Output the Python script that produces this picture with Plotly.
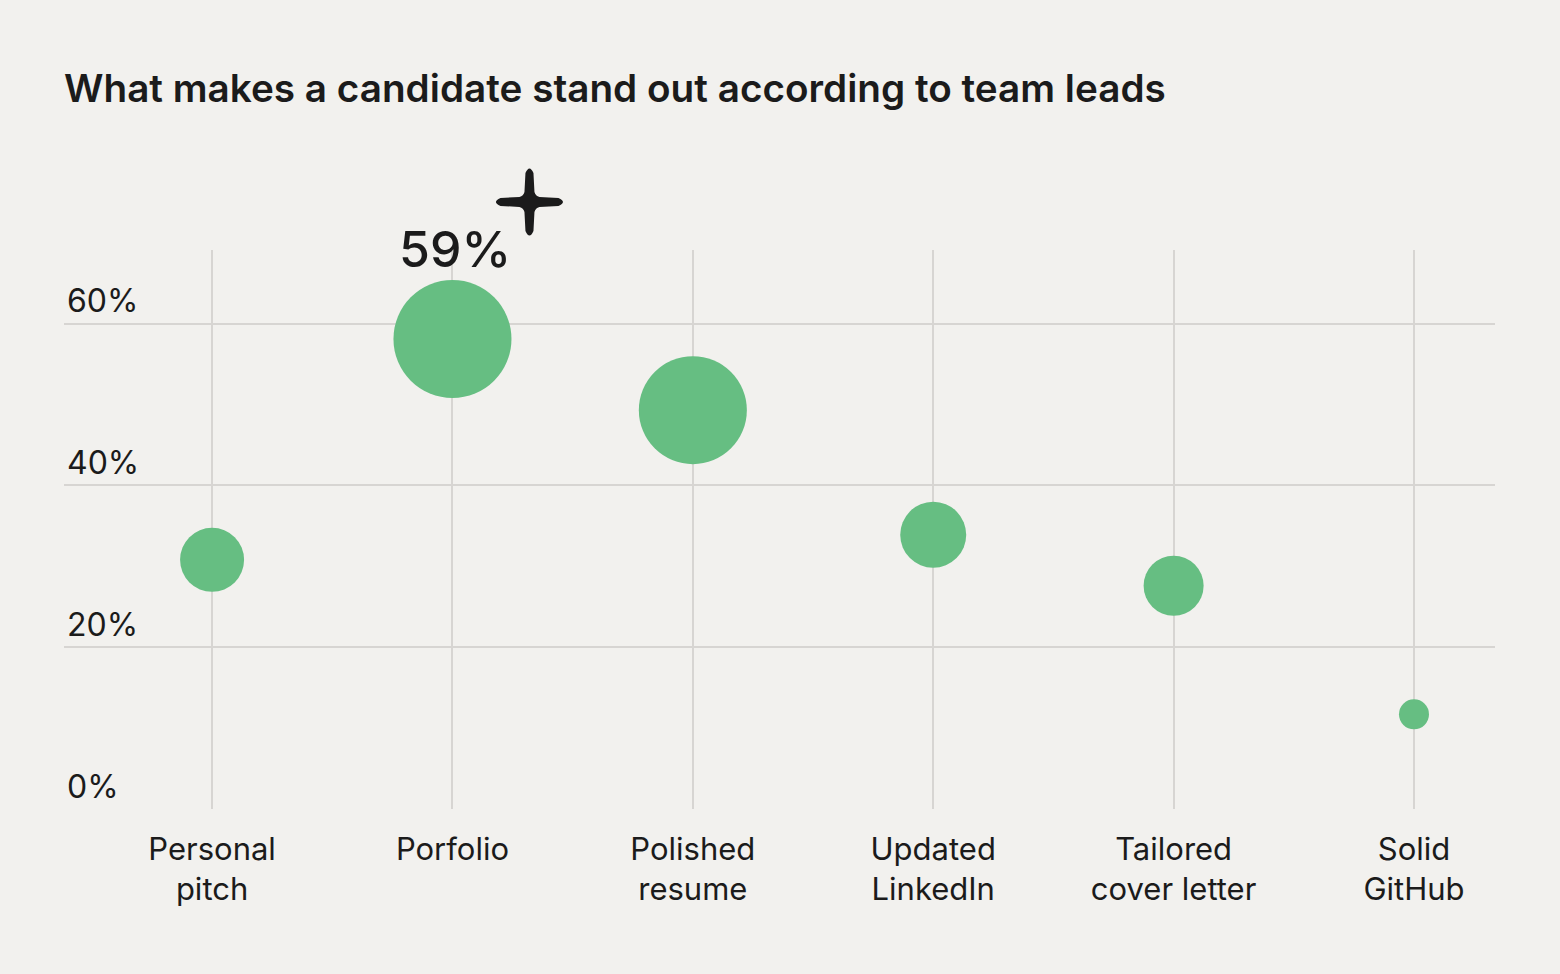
import plotly.graph_objects as go

# survey answers, share of team leads (%)
categories = ["Personal<br>pitch", "Porfolio", "Polished<br>resume",
              "Updated<br>LinkedIn", "Tailored<br>cover letter", "Solid<br>GitHub"]
share = [30.8, 58.1, 49.3, 33.9, 27.6, 11.7]
bubble = [64, 118, 108, 66, 60, 30]   # bubble diameter
top_label = "59%"
top_idx = 1

y_ticks = [0, 20, 40, 60]
y_tick_text = ["0%", "20%", "40%", "60%"]

BG = "#f2f1ee"
GRID = "#d7d5d2"
INK = "#1b1b1b"
GREEN = "#66be82"
FONT = "Inter"

X_RANGE = [-0.616, 5.337]
Y_RANGE = [0, 69.1]

xpos = list(range(len(categories)))

fig = go.Figure()
fig.add_trace(go.Scatter(
    x=xpos, y=share,
    mode="markers",
    marker=dict(size=bubble, color=GREEN, opacity=1, line=dict(width=0)),
    cliponaxis=False,
    hoverinfo="skip",
))

fig.add_annotation(
    x=top_idx, y=share[top_idx], text=top_label,
    showarrow=False, yanchor="bottom", yshift=bubble[top_idx] / 2 - 1,
    xshift=3,
    font=dict(family=FONT, size=50, color=INK, weight=500),
)

# little sparkle next to the top value (paper refs so it isn't clipped)
star = ("M -5,10 L -4,29 Q 0,38 4,29 L 5,10 Q 6,6 10,5 "
        "L 29,4 Q 38,0 29,-4 L 10,-5 Q 6,-6 5,-10 "
        "L 4,-29 Q 0,-38 -4,-29 L -5,-10 Q -6,-6 -10,-5 "
        "L -29,-4 Q -38,0 -29,4 L -10,5 Q -6,6 -5,10 Z")
sx = (top_idx + 77 / 240.4 - X_RANGE[0]) / (X_RANGE[1] - X_RANGE[0])
sy = (share[top_idx] + 137 / 8.088 - Y_RANGE[0]) / (Y_RANGE[1] - Y_RANGE[0])
fig.add_shape(
    type="path", path=star,
    xref="paper", yref="paper", xsizemode="pixel", ysizemode="pixel",
    xanchor=sx, yanchor=sy,
    fillcolor=INK, line=dict(width=0),
)

fig.update_layout(
    width=1560, height=974,
    paper_bgcolor=BG, plot_bgcolor=BG,
    margin=dict(l=64, r=65, t=250, b=165),
    showlegend=False,
    title=dict(
        text="What makes a candidate stand out according to team leads",
        x=64 / 1560, xanchor="left", y=1 - 88 / 974, yanchor="middle",
        font=dict(family=FONT, size=38.7, color=INK, weight=600),
    ),
    font=dict(family=FONT, color=INK),
)

fig.update_xaxes(
    range=X_RANGE,
    tickmode="array", tickvals=xpos, ticktext=categories,
    showgrid=True, gridcolor=GRID, gridwidth=2,
    zeroline=False, showline=False, ticks="",
    tickfont=dict(family=FONT, size=31, color=INK),
    ticklabelstandoff=19,
)
fig.update_yaxes(
    range=Y_RANGE,
    tickmode="array", tickvals=y_ticks, ticktext=y_tick_text,
    showgrid=True, gridcolor=GRID, gridwidth=2,
    zeroline=False, showline=False, ticks="",
    ticklabelposition="inside top",
    tickfont=dict(family=FONT, size=32, color=INK),
)

fig.write_html("out.html", config={"displayModeBar": False},
               post_script="document.body.style.margin='0';")
